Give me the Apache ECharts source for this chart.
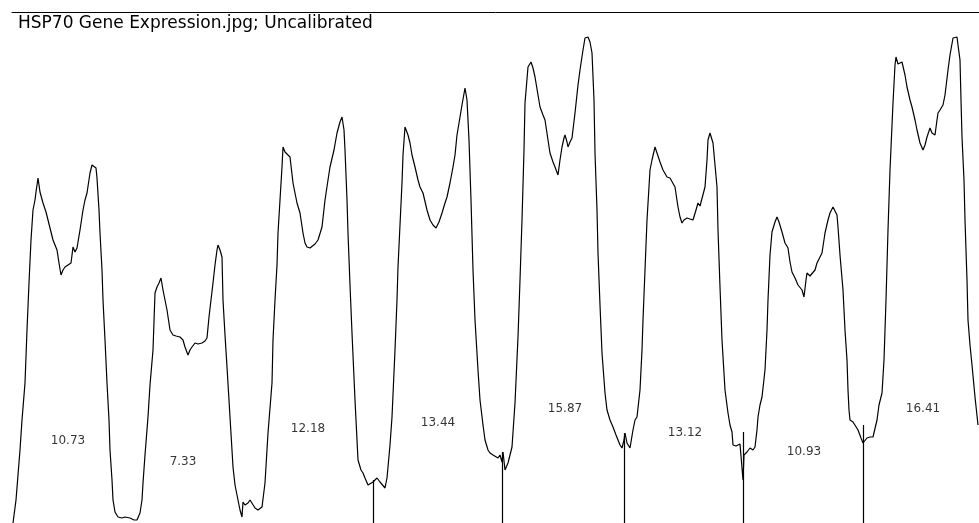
<!DOCTYPE html>
<html>
<head>
<meta charset="utf-8">
<title>HSP70 Gene Expression</title>
<script src="https://cdn.jsdelivr.net/npm/echarts@6/dist/echarts.min.js"></script>
<style>
    html, body { margin: 0; padding: 0; background: #fff; }
    #profileChart { width: 979px; height: 523px; }
</style>
</head>
<body>
<div id="profileChart"></div>
<script>
// lane profile: position along the lane, density
var profileX = [
    13, 16, 20, 22, 25, 27, 29, 31, 33, 35, 36, 38, 40, 43, 46, 48, 51, 53, 57, 59,
    61, 63, 65, 68, 71, 72, 73, 75, 77, 80, 83, 85, 87, 90, 92, 94, 96, 97, 99, 100,
    102, 103, 105, 107, 109, 110, 112, 113, 115, 118, 122, 125, 127, 130, 134, 137, 139, 140, 142, 143,
    145, 148, 150, 153, 155, 157, 159, 161, 163, 165, 167, 170, 173, 176, 180, 183, 185, 188, 190, 192,
    195, 198, 202, 205, 207, 209, 211, 213, 215, 217, 218, 220, 222, 223, 225, 227, 230, 233, 235, 238,
    240, 242, 243, 245, 248, 250, 252, 255, 258, 260, 262, 265, 268, 270, 272, 273, 275, 277, 278, 280,
    282, 283, 285, 287, 290, 293, 297, 300, 303, 305, 307, 310, 312, 315, 318, 322, 325, 328, 330, 334,
    337, 340, 342, 344, 345, 347, 348, 350, 352, 355, 357, 358, 361, 363, 365, 368, 370, 373, 375, 377,
    380, 382, 385, 387, 388, 390, 392, 395, 397, 398, 400, 402, 403, 405, 408, 410, 412, 415, 418, 420,
    423, 427, 430, 433, 436, 439, 442, 445, 447, 450, 453, 455, 457, 460, 462, 465, 467, 469, 471, 473,
    475, 478, 480, 483, 485, 488, 490, 493, 495, 498, 500, 502, 503, 505, 507, 508, 510, 512, 515, 518,
    520, 522, 524, 525, 528, 531, 533, 535, 538, 540, 543, 545, 548, 550, 553, 555, 558, 560, 562, 564,
    565, 567, 568, 570, 572, 575, 578, 580, 583, 585, 588, 590, 592, 594, 595, 597, 598, 600, 602, 605,
    607, 610, 613, 616, 618, 620, 622, 624, 625, 627, 630, 633, 635, 637, 640, 642, 643, 645, 647, 650,
    652, 655, 657, 660, 663, 667, 670, 672, 675, 678, 680, 682, 684, 687, 690, 693, 696, 698, 700, 702,
    705, 707, 708, 710, 711, 713, 715, 717, 718, 720, 722, 725, 728, 730, 732, 733, 736, 738, 740, 742,
    743, 744, 746, 747, 750, 753, 755, 757, 758, 760, 762, 765, 767, 768, 770, 772, 775, 777, 779, 782,
    785, 788, 790, 792, 795, 798, 800, 802, 804, 806, 807, 810, 812, 815, 817, 820, 822, 825, 828, 830,
    833, 835, 837, 838, 840, 843, 845, 847, 848, 849, 850, 853, 855, 858, 861, 863, 865, 867, 870, 873,
    875, 877, 879, 882, 884, 886, 888, 890, 893, 895, 896, 898, 900, 902, 903, 905, 907, 910, 912, 915,
    917, 920, 923, 925, 927, 930, 932, 935, 937, 938, 940, 943, 945, 948, 950, 953, 955, 957, 958, 960,
    961, 962, 964, 965, 967, 968, 970, 972, 975, 978
]
var profileY = [
    0, 23, 73, 103, 140, 193, 240, 283, 313, 323, 331, 345, 331, 320, 311, 303, 291, 283, 273, 260,
    248, 253, 256, 258, 260, 268, 276, 271, 275, 293, 313, 323, 330, 350, 358, 360, 355, 345, 313, 290,
    253, 223, 183, 140, 103, 73, 43, 23, 11, 6, 5, 6, 4, 5, 3, 3, 5, 10, 23, 40,
    68, 106, 138, 173, 230, 236, 240, 245, 233, 223, 213, 193, 188, 187, 186, 183, 176, 168, 173, 176,
    180, 179, 180, 182, 185, 206, 223, 240, 258, 273, 278, 273, 266, 223, 188, 156, 106, 56, 38, 23,
    13, 6, 21, 18, 20, 23, 23, 15, 13, 15, 16, 40, 90, 115, 140, 183, 223, 258, 290, 323,
    356, 376, 371, 370, 366, 340, 320, 310, 290, 280, 276, 275, 276, 279, 283, 296, 323, 343, 356, 373,
    390, 401, 406, 393, 373, 323, 290, 238, 190, 123, 83, 63, 53, 50, 45, 38, 39, 41, 43, 45,
    41, 40, 35, 45, 56, 78, 106, 173, 223, 256, 298, 340, 368, 396, 388, 380, 368, 356, 343, 336,
    330, 313, 303, 298, 295, 301, 310, 320, 326, 340, 356, 368, 388, 406, 418, 435, 423, 383, 323, 253,
    203, 153, 123, 98, 83, 73, 70, 68, 66, 65, 68, 61, 71, 53, 55, 60, 68, 76, 120, 186,
    243, 303, 373, 420, 456, 461, 455, 446, 428, 416, 408, 403, 383, 370, 361, 356, 348, 363, 376, 385,
    388, 381, 376, 381, 385, 410, 438, 453, 473, 485, 486, 481, 470, 423, 370, 313, 270, 218, 170, 130,
    113, 103, 96, 88, 83, 78, 75, 83, 90, 80, 75, 93, 103, 106, 133, 173, 203, 253, 303, 353,
    363, 376, 370, 361, 353, 346, 345, 343, 336, 316, 306, 300, 303, 305, 304, 303, 313, 320, 317, 316,
    336, 363, 383, 390, 391, 380, 358, 336, 293, 236, 183, 133, 110, 98, 91, 78, 77, 77, 79, 81,
    43, 68, 70, 71, 75, 73, 76, 93, 106, 118, 126, 153, 193, 223, 268, 291, 301, 306, 301, 291,
    280, 275, 261, 251, 245, 238, 240, 233, 226, 243, 250, 247, 246, 253, 260, 266, 270, 290, 303, 310,
    316, 316, 308, 296, 268, 233, 193, 163, 133, 113, 103, 101, 100, 93, 85, 80, 82, 85, 86, 86,
    87, 103, 118, 130, 163, 223, 293, 353, 420, 458, 466, 459, 461, 461, 463, 448, 436, 423, 416, 403,
    393, 380, 373, 378, 386, 395, 390, 388, 403, 410, 413, 418, 428, 453, 468, 485, 486, 486, 478, 463,
    423, 386, 343, 303, 243, 203, 178, 158, 126, 98
]

// lane dividers: position and height of each drop line
var dividerX = [373, 502, 624, 743, 863]
var dividerTop = [43, 71, 90, 91, 98]

// peak areas written inside each lane, with where they sit
var laneAreas = [10.73, 7.33, 12.18, 13.44, 15.87, 13.12, 10.93, 16.41]
var areaLabelX = [68, 183, 308, 438, 565, 685, 804, 923]
var areaLabelY = [82, 61, 94, 100, 114, 90, 71, 114]

var chartTitle = 'HSP70 Gene Expression.jpg; Uncalibrated'

var myChart = echarts.init(document.getElementById('profileChart'))

var profileData = []
for (var i = 0; i < profileX.length; i++) {
    profileData.push([profileX[i], profileY[i]])
}
var dividerData = []
for (var j = 0; j < dividerX.length; j++) {
    dividerData.push({coords: [[dividerX[j], dividerTop[j]], [dividerX[j], 0]]})
}
var labelData = []
for (var k = 0; k < laneAreas.length; k++) {
    labelData.push([areaLabelX[k], areaLabelY[k], laneAreas[k]])
}

myChart.setOption({
    animation: false,
    backgroundColor: '#fff',
    title: {
        text: chartTitle,
        left: 18,
        top: 15,
        padding: 0,
        textStyle: {
            fontFamily: 'DejaVu Sans',
            fontSize: 17,
            fontWeight: 'normal',
            color: '#000'
        }
    },
    grid: {left: 12, right: 0, top: 12, bottom: 0},
    xAxis: {
        type: 'value',
        min: 12,
        max: 979,
        position: 'top',
        axisLine: {show: true, onZero: false, lineStyle: {color: '#000', width: 1}},
        axisTick: {show: false},
        axisLabel: {show: false},
        splitLine: {show: false}
    },
    yAxis: {
        type: 'value',
        min: 0,
        max: 511,
        axisLine: {show: false},
        axisTick: {show: false},
        axisLabel: {show: false},
        splitLine: {show: false}
    },
    series: [{
        name: 'profile',
        type: 'line',
        data: profileData,
        symbol: 'none',
        lineStyle: {color: '#000', width: 1.2},
        silent: true
    }, {
        name: 'dividers',
        type: 'lines',
        coordinateSystem: 'cartesian2d',
        data: dividerData,
        lineStyle: {color: '#000', width: 1.2, opacity: 1},
        silent: true
    }, {
        name: 'areas',
        type: 'scatter',
        data: labelData,
        symbolSize: 0,
        silent: true,
        label: {
            show: true,
            position: 'inside',
            formatter: function (p) {
                return p.value[2].toFixed(2)
            },
            fontFamily: 'DejaVu Sans',
            fontSize: 12,
            color: '#000'
        }
    }]
})
window.onresize = myChart.resize
</script>
</body>
</html>
